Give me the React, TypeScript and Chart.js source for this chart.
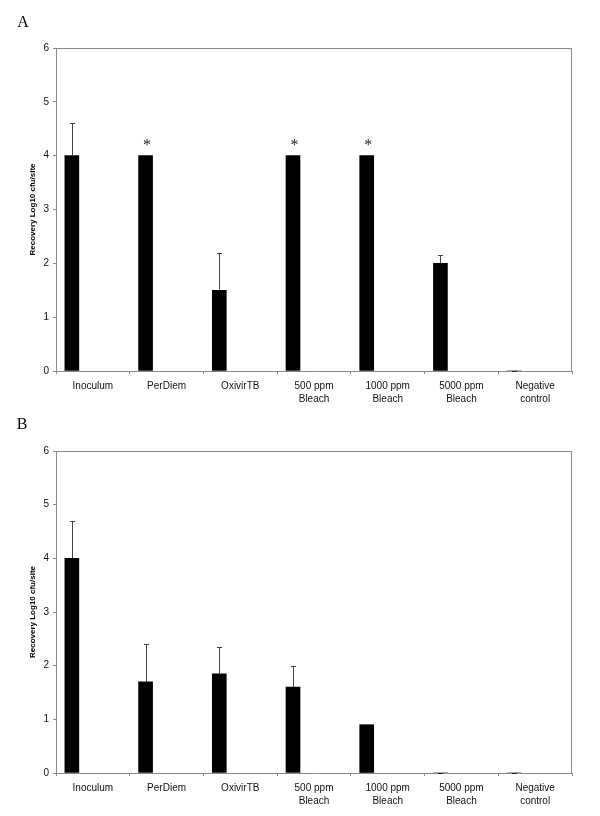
import React, { useEffect, useRef } from "react";
import { Chart, registerables } from "chart.js";

Chart.register(...registerables);

const categories: (string | string[])[] = [
  "Inoculum",
  "PerDiem",
  "OxivirTB",
  ["500 ppm", "Bleach"],
  ["1000 ppm", "Bleach"],
  ["5000 ppm", "Bleach"],
  ["Negative", "control"],
];

const recoveryA = [4, 4, 1.5, 4, 4, 2, 0];
const errorA = [0.6, 0, 0.7, 0, 0, 0.15, 0];
const starA = [false, true, false, true, true, false, false];

const recoveryB = [4, 1.7, 1.85, 1.6, 0.9, 0, 0];
const errorB = [0.7, 0.7, 0.5, 0.4, 0, 0, 0];
const starB = [false, false, false, false, false, false, false];

const yMin = 0;
const yMax = 6;
const yStep = 1;

const yTitle = "Recovery Log10 cfu/site";

const AXIS = "#8a8a8a";

function makeChart(
  canvas: HTMLCanvasElement,
  label: string,
  values: number[],
  errors: number[],
  stars: boolean[],
  top: number,
  xHeight: number,
  labelPos: { x: number; y: number }
) {
  const overlay = {
    id: "overlay" + label,
    afterDatasetsDraw(chart: any) {
      const { ctx, chartArea } = chart;
      const y = chart.scales.y;
      const meta = chart.getDatasetMeta(0);
      ctx.save();
      // frame: top and right
      ctx.strokeStyle = AXIS;
      ctx.lineWidth = 1;
      ctx.beginPath();
      ctx.moveTo(chartArea.left, Math.round(chartArea.top) + 0.5);
      ctx.lineTo(chartArea.right, Math.round(chartArea.top) + 0.5);
      ctx.moveTo(Math.round(chartArea.right) - 0.5, chartArea.top);
      ctx.lineTo(Math.round(chartArea.right) - 0.5, chartArea.bottom);
      ctx.stroke();
      // error bars (upper only)
      values.forEach((v, i) => {
        const el = meta.data[i];
        if (!el) return;
        const e = errors[i];
        if (!(e > 0) && v !== 0) return;
        const x = Math.round(el.x) + 0.5;
        const y0 = y.getPixelForValue(v);
        const y1 = Math.round(y.getPixelForValue(v + e)) + 0.5;
        ctx.strokeStyle = v === 0 ? "#222" : "#444";
        ctx.lineWidth = 1;
        ctx.beginPath();
        if (e > 0) {
          ctx.moveTo(x, y0);
          ctx.lineTo(x, y1);
        }
        ctx.moveTo(x - 2.5, y1);
        ctx.lineTo(x + 2.5, y1);
        ctx.stroke();
      });
      // significance markers
      ctx.fillStyle = "#222";
      ctx.font = '16px "Liberation Serif"';
      ctx.textAlign = "center";
      ctx.textBaseline = "alphabetic";
      stars.forEach((s, i) => {
        if (!s) return;
        const el = meta.data[i];
        const yy = y.getPixelForValue(values[i]);
        ctx.fillText("*", el.x + 1.5, yy - 6);
      });
      // panel label
      ctx.fillStyle = "#000";
      ctx.font = '16px "Liberation Serif"';
      ctx.textBaseline = "middle";
      ctx.fillText(label, labelPos.x, labelPos.y);
      ctx.restore();
    },
  };

  return new Chart(canvas, {
    type: "bar",
    data: {
      labels: categories as any,
      datasets: [
        {
          data: values,
          backgroundColor: "#000",
          borderWidth: 0,
          barThickness: 14,
        },
        { data: categories.map(() => null), barThickness: 14 },
        { data: categories.map(() => null), barThickness: 14 },
        { data: categories.map(() => null), barThickness: 14 },
      ] as any,
    },
    options: {
      animation: false,
      responsive: false,
      devicePixelRatio: 1,
      layout: { padding: { left: 24, right: 28, top: top, bottom: 0 } },
      plugins: {
        legend: { display: false },
        tooltip: { enabled: false },
      },
      scales: {
        x: {
          grid: {
            offset: true,
            drawOnChartArea: false,
            drawTicks: true,
            tickLength: 3,
            color: AXIS,
          },
          border: { color: AXIS },
          ticks: {
            autoSkip: false,
            maxRotation: 0,
            padding: 6,
            color: "#111",
            font: { family: '"Liberation Sans"', size: 10, lineHeight: 1.25 },
          },
          afterFit(scale: any) {
            scale.height = xHeight;
          },
        },
        y: {
          min: yMin,
          max: yMax,
          grid: {
            drawOnChartArea: false,
            drawTicks: true,
            tickLength: 3,
            color: AXIS,
          },
          border: { color: AXIS },
          ticks: {
            stepSize: yStep,
            padding: 4,
            color: "#111",
            font: { family: '"Liberation Sans"', size: 10 },
          },
          title: {
            display: true,
            text: yTitle,
            color: "#000",
            font: { family: '"Liberation Sans"', size: 8, weight: "bold" },
          },
          afterFit(scale: any) {
            scale.width = 32;
          },
        },
      },
    },
    plugins: [overlay],
  } as any);
}

export default function App() {
  const refA = useRef<HTMLCanvasElement>(null);
  const refB = useRef<HTMLCanvasElement>(null);

  useEffect(() => {
    const a = makeChart(refA.current!, "A", recoveryA, errorA, starA, 48, 37, { x: 23, y: 23 });
    const b = makeChart(refB.current!, "B", recoveryB, errorB, starB, 43, 43, { x: 22, y: 17 });
    return () => {
      a.destroy();
      b.destroy();
    };
  }, []);

  return (
    <div style={{ position: "absolute", left: 0, top: 0, width: 600, height: 816, background: "#fff" }}>
      <canvas ref={refA} width={600} height={408} style={{ display: "block", width: 600, height: 408 }} />
      <canvas ref={refB} width={600} height={408} style={{ display: "block", width: 600, height: 408 }} />
    </div>
  );
}
